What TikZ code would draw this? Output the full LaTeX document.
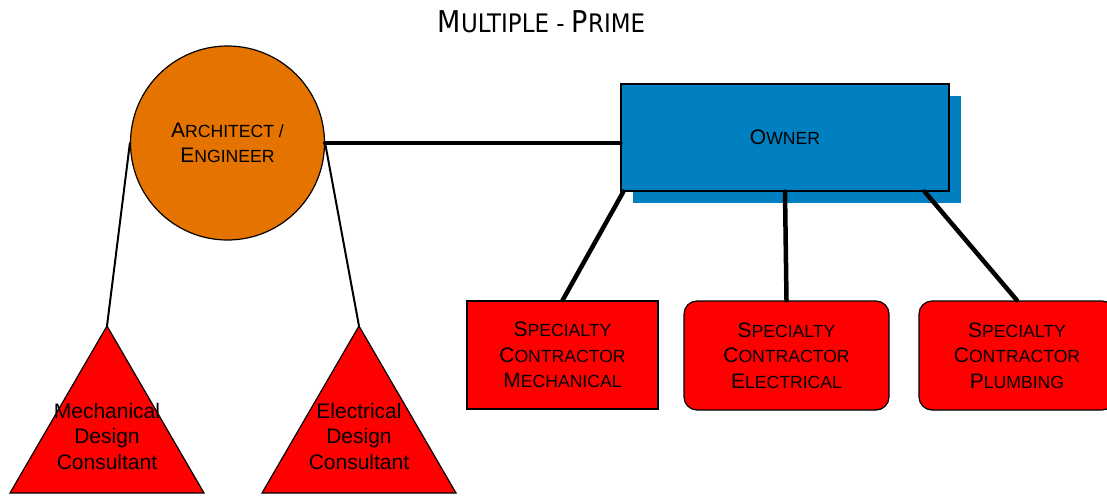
\documentclass[tikz,border=0pt]{standalone}
\usepackage{fontspec}
\setmainfont{Liberation Sans}
\newfontfamily\titlefont{DejaVu Sans Condensed}
\usetikzlibrary{calc}

% faked small capitals: large initial, smaller remaining capitals
\newcommand\capw[2]{{\fontsize{21}{25.5}\selectfont#1}{\fontsize{17.6}{25.5}\selectfont#2}}
\newcommand\titlecap[2]{{\fontsize{30}{34}\selectfont#1}{\fontsize{25.5}{34}\selectfont#2}}

\definecolor{aeorange}{RGB}{229,115,0}
\definecolor{ownerblue}{RGB}{0,128,192}
\definecolor{subred}{RGB}{255,0,0}

\tikzset{
  x=1pt, y=-1pt,
  basefont/.style={font=\fontsize{21}{25.5}\selectfont, align=center},
  archnode/.style={basefont, circle, draw=black, line width=1.2pt,
    fill=aeorange, minimum size=194pt, inner sep=0pt},
  ownerbox/.style={basefont, rectangle, draw=black, line width=1.2pt,
    fill=ownerblue, minimum width=328pt, minimum height=107pt, inner sep=0pt},
  ownershade/.style={rectangle, fill=ownerblue, draw=none,
    minimum width=328pt, minimum height=107pt, inner sep=0pt},
  tradebox/.style={basefont, rectangle, draw=black, line width=1.2pt,
    fill=subred, minimum height=109pt, inner sep=0pt},
  roundbox/.style={tradebox, rounded corners=13pt},
  consultant/.style={draw=black, line width=1.2pt, fill=subred, line join=miter},
  conntext/.style={basefont, inner sep=0pt},
  heavy/.style={line width=4.5pt, line cap=round},
  light/.style={line width=2pt, line cap=round},
}

\begin{document}
\begin{tikzpicture}
\useasboundingbox (0,0) rectangle (1107,495);
\clip (0,0) rectangle (1107,495);

% title
\node[inner sep=0pt, font=\titlefont] (title) at (541.5,22)
  {\titlecap{M}{ULTIPLE - }\titlecap{P}{RIME}};

% design side
\node[archnode] (arch) at (227.5,143) {\capw{A}{RCHITECT /}\\\capw{E}{NGINEER}};

\draw[consultant] (107,326) coordinate (mdcTop) -- (204,493) -- (10,493) -- cycle;
\node[conntext] (mdc) at (107,436) {Mechanical\\Design\\Consultant};

\draw[consultant] (359,326) coordinate (edcTop) -- (456,493) -- (262,493) -- cycle;
\node[conntext] (edc) at (359,436) {Electrical\\Design\\Consultant};

% owner with its offset shade
\node[ownershade] (ownershadow) at (797,149.5) {};
\node[ownerbox] (owner) at (785,137.5) {\capw{O}{WNER}};

% prime contractors
\node[tradebox, minimum width=191pt, minimum height=108pt] (mech) at (562.5,355)
  {\capw{S}{PECIALTY}\\\capw{C}{ONTRACTOR}\\\capw{M}{ECHANICAL}};
\node[roundbox, minimum width=205pt] (elec) at (786.5,355.5)
  {\capw{S}{PECIALTY}\\\capw{C}{ONTRACTOR}\\\capw{E}{LECTRICAL}};
\node[roundbox, minimum width=196pt] (plumb) at (1017,355.5)
  {\capw{S}{PECIALTY}\\\capw{C}{ONTRACTOR}\\\capw{P}{LUMBING}};

% contract lines
\draw[heavy] (arch.east) -- (owner.west |- arch.east);
\draw[heavy] ($(owner.south west)+(3,0)$) -- (mech.north);
\draw[heavy] (owner.south) -- (elec.north);
\draw[heavy] ($(owner.south east)+(-25,0)$) -- (plumb.north);

\draw[light] (arch.west) -- (mdcTop);
\draw[light] (arch.east) -- (edcTop);
\end{tikzpicture}
\end{document}
